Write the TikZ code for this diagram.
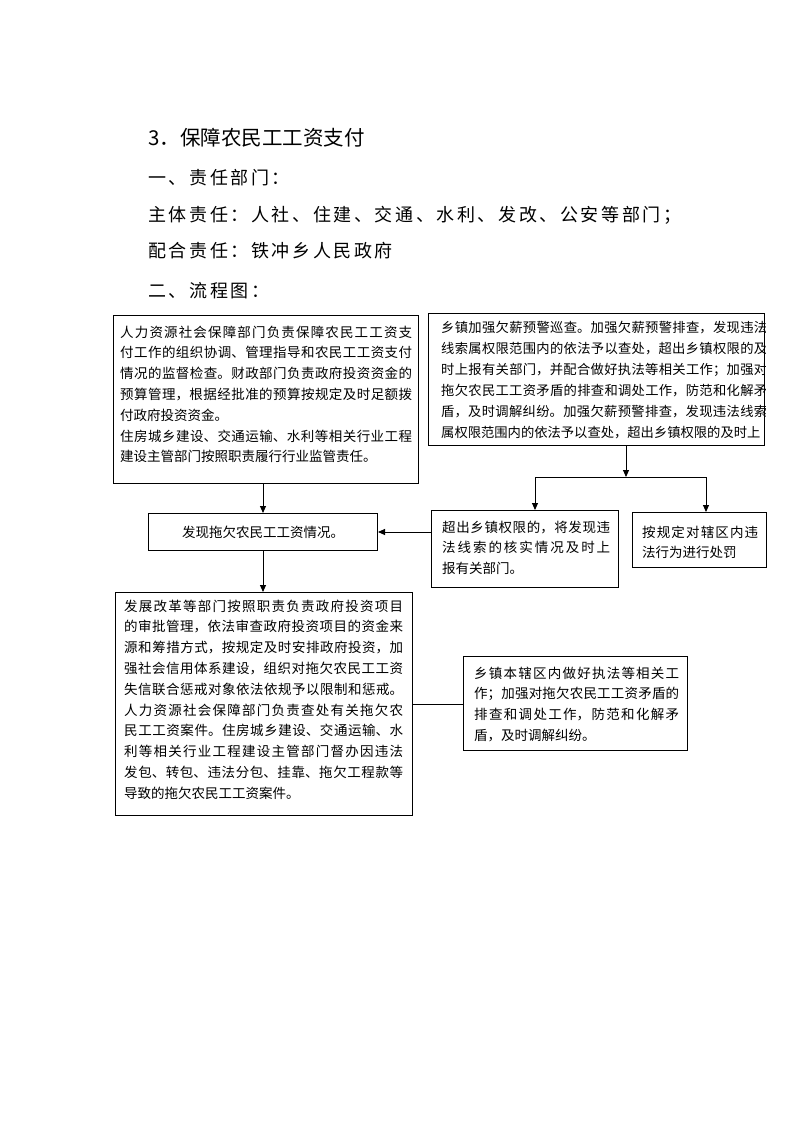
\documentclass[tikz,border=0pt]{standalone}
\usepackage{fontspec}
\setmainfont{Noto Sans CJK SC}
\newfontfamily\headfont[LetterSpace=14.5]{Noto Sans CJK SC}
\usetikzlibrary{arrows.meta}
\XeTeXlinebreaklocale "zh"
\XeTeXlinebreakskip=0pt plus 4pt minus 0.3pt
\tikzset{
  box/.style={draw=black, line width=1pt, inner sep=0pt, anchor=north west},
  para/.style={anchor=base west, align=justify, inner sep=0pt,
    font=\fontsize{13.5}{20.8}\selectfont},
  heading/.style={anchor=base west, inner sep=0pt, font=\headfont\fontsize{18}{20}\selectfont},
  conn/.style={line width=0.9pt},
  arr/.style={conn, -{Triangle[length=7pt,width=6pt]}},
}
\begin{document}
\begin{tikzpicture}[x=1pt,y=1pt]
\useasboundingbox[fill=white] (0,0) rectangle (793,-1122);

% headings
\node[anchor=base west, inner sep=0pt, font=\fontsize{20.5}{22}\selectfont] (title) at (148,-145) {3．保障农民工工资支付};
\node[heading] (h1) at (148,-184) {一、责任部门：};
\node[heading] (h2) at (148,-221) {主体责任：人社、住建、交通、水利、发改、公安等部门；};
\node[heading] (h3) at (148,-257) {配合责任：铁冲乡人民政府};
\node[heading] (h4) at (148,-297) {二、流程图：};

% boxes
\node[box, minimum width=305pt, minimum height=168pt] (A) at (113,-315) {};
\node[box, minimum width=336pt, minimum height=132pt] (B) at (428,-313) {};
\node[box, minimum width=229pt, minimum height=37pt] (F1) at (148,-513) {};
\node[box, minimum width=187pt, minimum height=77pt] (C) at (431,-510) {};
\node[box, minimum width=134pt, minimum height=55pt] (D) at (632,-512) {};
\node[box, minimum width=297pt, minimum height=223pt] (E) at (115,-592) {};
\node[box, minimum width=224pt, minimum height=94pt] (F) at (463,-656) {};

% texts
\node[para, text width=292pt] (tA) at (120,-337) {人力资源社会保障部门负责保障农民工工资支\linebreak
付工作的组织协调、管理指导和农民工工资支付\linebreak
情况的监督检查。财政部门负责政府投资资金的\linebreak
预算管理，根据经批准的预算按规定及时足额拨\linebreak
付政府投资资金。\par
住房城乡建设、交通运输、水利等相关行业工程\linebreak
建设主管部门按照职责履行行业监管责任。};

\begin{scope}
\clip (B.north west) rectangle (B.south east);
\node[para, text width=326pt, font=\fontsize{13.3}{21}\selectfont] (tB) at (441,-332) {乡镇加强欠薪预警巡查。加强欠薪预警排查，发现违法\linebreak
线索属权限范围内的依法予以查处，超出乡镇权限的及\linebreak
时上报有关部门，并配合做好执法等相关工作；加强对\linebreak
拖欠农民工工资矛盾的排查和调处工作，防范和化解矛\linebreak
盾，及时调解纠纷。加强欠薪预警排查，发现违法线索\linebreak
属权限范围内的依法予以查处，超出乡镇权限的及时上};
\end{scope}

\node[anchor=center, inner sep=0pt, font=\fontsize{13.5}{16}\selectfont] (tF1) at (F1.center) {发现拖欠农民工工资情况。};

\node[para, text width=168pt] (tC) at (442,-532) {超出乡镇权限的，将发现违\linebreak
法线索的核实情况及时上\linebreak
报有关部门。};

\node[para, text width=116pt] (tD) at (642,-537) {按规定对辖区内违\linebreak
法行为进行处罚};

\node[para, text width=279pt] (tE) at (124,-611) {发展改革等部门按照职责负责政府投资项目\linebreak
的审批管理，依法审查政府投资项目的资金来\linebreak
源和筹措方式，按规定及时安排政府投资，加\linebreak
强社会信用体系建设，组织对拖欠农民工工资\linebreak
失信联合惩戒对象依法依规予以限制和惩戒。\linebreak
人力资源社会保障部门负责查处有关拖欠农\linebreak
民工工资案件。住房城乡建设、交通运输、水\linebreak
利等相关行业工程建设主管部门督办因违法\linebreak
发包、转包、违法分包、挂靠、拖欠工程款等\linebreak
导致的拖欠农民工工资案件。};

\node[para, text width=205pt] (tF) at (474,-678) {乡镇本辖区内做好执法等相关工\linebreak
作；加强对拖欠农民工工资矛盾的\linebreak
排查和调处工作，防范和化解矛\linebreak
盾，及时调解纠纷。};

% connectors
\coordinate (jM) at (626,-477);
\coordinate (jL) at (535,-477);
\coordinate (jR) at (706,-477);
\draw[arr] (F1.north |- A.south) -- (F1.north);
\draw[arr] (F1.south) -- (F1.south |- E.north);
\draw[arr] (F1.east -| C.west) -- (F1.east);
\draw[arr] (B.south -| jM) -- (jM);
\draw[conn] (jL) -- (jR);
\draw[arr] (jL) -- (jL |- C.north);
\draw[arr] (jR) -- (jR |- D.north);
\draw[conn] (E.east) -- (E.east -| F.west);
\end{tikzpicture}
\end{document}
